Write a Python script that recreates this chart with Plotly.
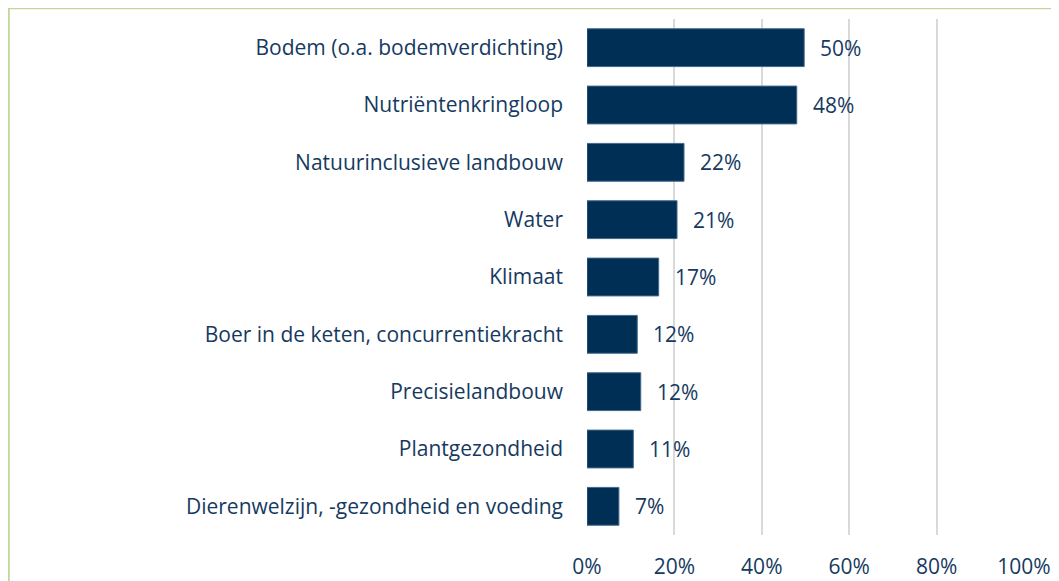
import plotly.graph_objects as go

categories = [
    "Bodem (o.a. bodemverdichting)",
    "Nutriëntenkringloop",
    "Natuurinclusieve landbouw",
    "Water",
    "Klimaat",
    "Boer in de keten, concurrentiekracht",
    "Precisielandbouw",
    "Plantgezondheid",
    "Dierenwelzijn, -gezondheid en voeding",
]
values = [49.7, 48.0, 22.2, 20.6, 16.4, 11.5, 12.3, 10.6, 7.3]
labels = ["50%", "48%", "22%", "21%", "17%", "12%", "12%", "11%", "7%"]
tick_vals = [0, 20, 40, 60, 80, 100]
tick_text = ["0%", "20%", "40%", "60%", "80%", "100%"]

# the page body adds an 8px offset; figure sized to fill the rest of the window
W, H = 1051, 573
L, R, T, B = 579, 35, 11, 46
TXT = "#163a5f"
FONT = "Open Sans"
FS = 21

fig = go.Figure()
fig.add_trace(go.Bar(
    y=categories, x=values, orientation="h",
    marker=dict(color="#002f55", line=dict(color="#44698c", width=1)),
    hoverinfo="skip",
))
for c, v, t in zip(categories, values, labels):
    fig.add_annotation(x=v, y=c, text=t, showarrow=False, xanchor="left",
                       xshift=14, font=dict(family=FONT, size=FS, color=TXT))

pw = W - L - R
ph = H - T - B
fig.add_shape(type="rect", xref="paper", yref="paper",
              x0=(0.8 - L) / pw, x1=(W + 5 - L) / pw,
              y0=(H - (H + 5) - B) / ph, y1=(H - 0.2 - B) / ph,
              line=dict(color="#c3d69b", width=2), fillcolor="rgba(0,0,0,0)",
              layer="below")

fig.update_layout(
    width=W, height=H,
    margin=dict(l=L, r=R, t=T, b=B, autoexpand=False),
    paper_bgcolor="white", plot_bgcolor="white",
    bargap=0.34, showlegend=False,
    font=dict(family=FONT, size=FS, color=TXT),
    xaxis=dict(range=[0, 100], tickvals=tick_vals, ticktext=tick_text,
               showgrid=True, gridcolor="#d9d9d9", gridwidth=2,
               zeroline=False, showline=False, ticks="", automargin=False,
               ticklabelstandoff=17, tickfont=dict(family=FONT, size=FS, color=TXT)),
    yaxis=dict(autorange="reversed", showgrid=False, zeroline=False,
               showline=False, ticks="", automargin=False, ticklabelstandoff=23,
               tickfont=dict(family=FONT, size=FS, color=TXT)),
)
fig.write_html("out.html")
